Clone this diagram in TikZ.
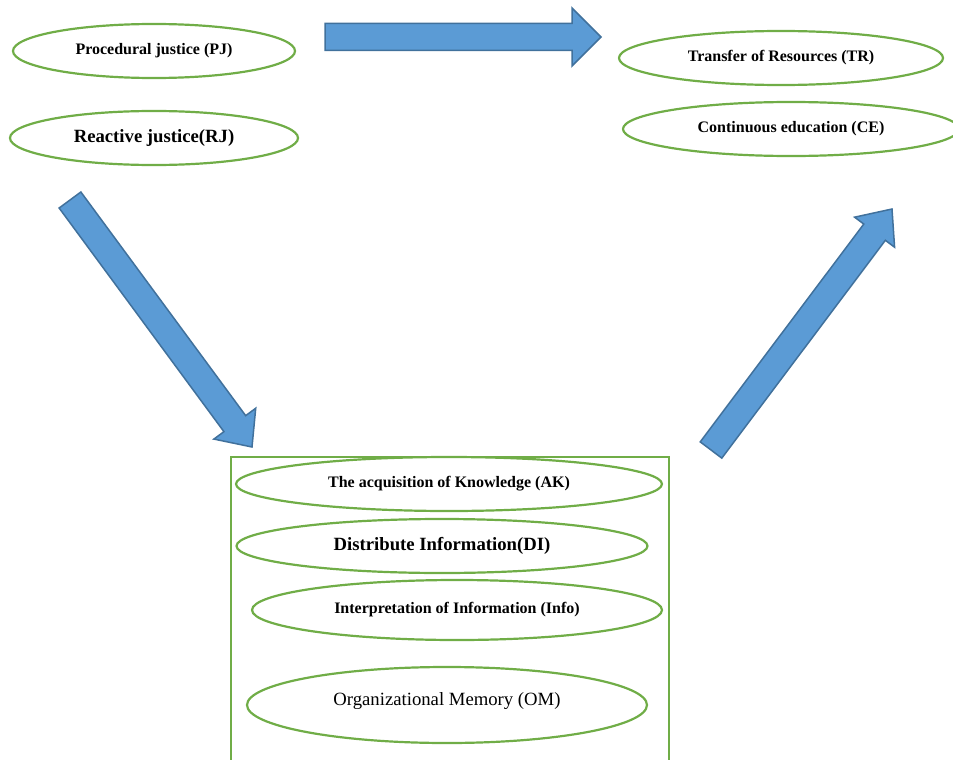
\documentclass[tikz,border=0pt]{standalone}
\usepackage{fontspec}
\setmainfont{Liberation Serif}
\usetikzlibrary{shapes.geometric,calc}

\definecolor{oval-green}{HTML}{70ad47}
\definecolor{arrow-fill}{HTML}{5b9bd5}
\definecolor{arrow-line}{HTML}{41719c}
\tikzstyle{oval}=[ellipse, draw=oval-green, line width=2.2pt, inner sep=0pt, font=\bfseries\fontsize{16}{18}\selectfont]
\tikzstyle{oval-big}=[oval, font=\bfseries\fontsize{18.7}{21}\selectfont]
\tikzstyle{block-arrow}=[fill=arrow-fill, draw=arrow-line, line width=1.5pt, line join=miter]

% fat arrow from #2 (tail) to #3 (tip), #1 = half width of the head
\newcommand{\blockarrow}[3][27pt]{%
  \coordinate (hb) at ($(#3)!29pt!(#2)$);
  \draw[block-arrow] ($(#2)!13.5pt!-90:(#3)$) -- ($(hb)!13.5pt!-90:(#3)$) -- ($(hb)!#1!-90:(#3)$)
     -- (#3) -- ($(hb)!#1!90:(#3)$) -- ($(hb)!13.5pt!90:(#3)$) -- ($(#2)!13.5pt!90:(#3)$) -- cycle;}

\begin{document}
\begin{tikzpicture}[x=1pt, y=1pt]
    \useasboundingbox (0,0) rectangle (953,-760);

    % justice
    \node (pj) at (154,-51) [oval, minimum width=282pt, minimum height=54pt] {Procedural justice (PJ)};
    \node (rj) at (154,-138) [oval-big, minimum width=288pt, minimum height=54pt] {\raisebox{-3pt}{Reactive justice(RJ)}};

    % outcomes
    \node (tr) at (781,-58) [oval, minimum width=324pt, minimum height=54pt] {Transfer of Resources (TR)};
    \node (ce) at (791,-129) [oval, minimum width=336pt, minimum height=54pt] {Continuous education (CE)};

    % learning process
    \node (learning) at (450,-613.5) [draw=oval-green, line width=2pt, minimum width=438pt, minimum height=313pt] {};
    \node (ak) at (449,-484) [oval, minimum width=426pt, minimum height=54pt] {The acquisition of Knowledge (AK)};
    \node (di) at (442,-546) [oval-big, minimum width=411pt, minimum height=54pt] {Distribute Information(DI)};
    \node (info) at (457,-610) [oval, minimum width=410pt, minimum height=60pt] {Interpretation of Information (Info)};
    \node (om) at (447,-705) [oval, font=\fontsize{18.7}{21}\selectfont, minimum width=400pt, minimum height=76pt] {\raisebox{12pt}{Organizational Memory (OM)}};

    % arrows
    \coordinate (top-tail) at (325,-37);
    \coordinate (top-tip) at (601,-37);
    \coordinate (down-tail) at (70,-200);
    \coordinate (down-tip) at (252,-447);
    \coordinate (up-tail) at (711,-450);
    \coordinate (up-tip) at (892,-209);
    \blockarrow[29pt]{top-tail}{top-tip}
    \blockarrow[26pt]{down-tail}{down-tip}
    \blockarrow[25pt]{up-tail}{up-tip}
\end{tikzpicture}
\end{document}
